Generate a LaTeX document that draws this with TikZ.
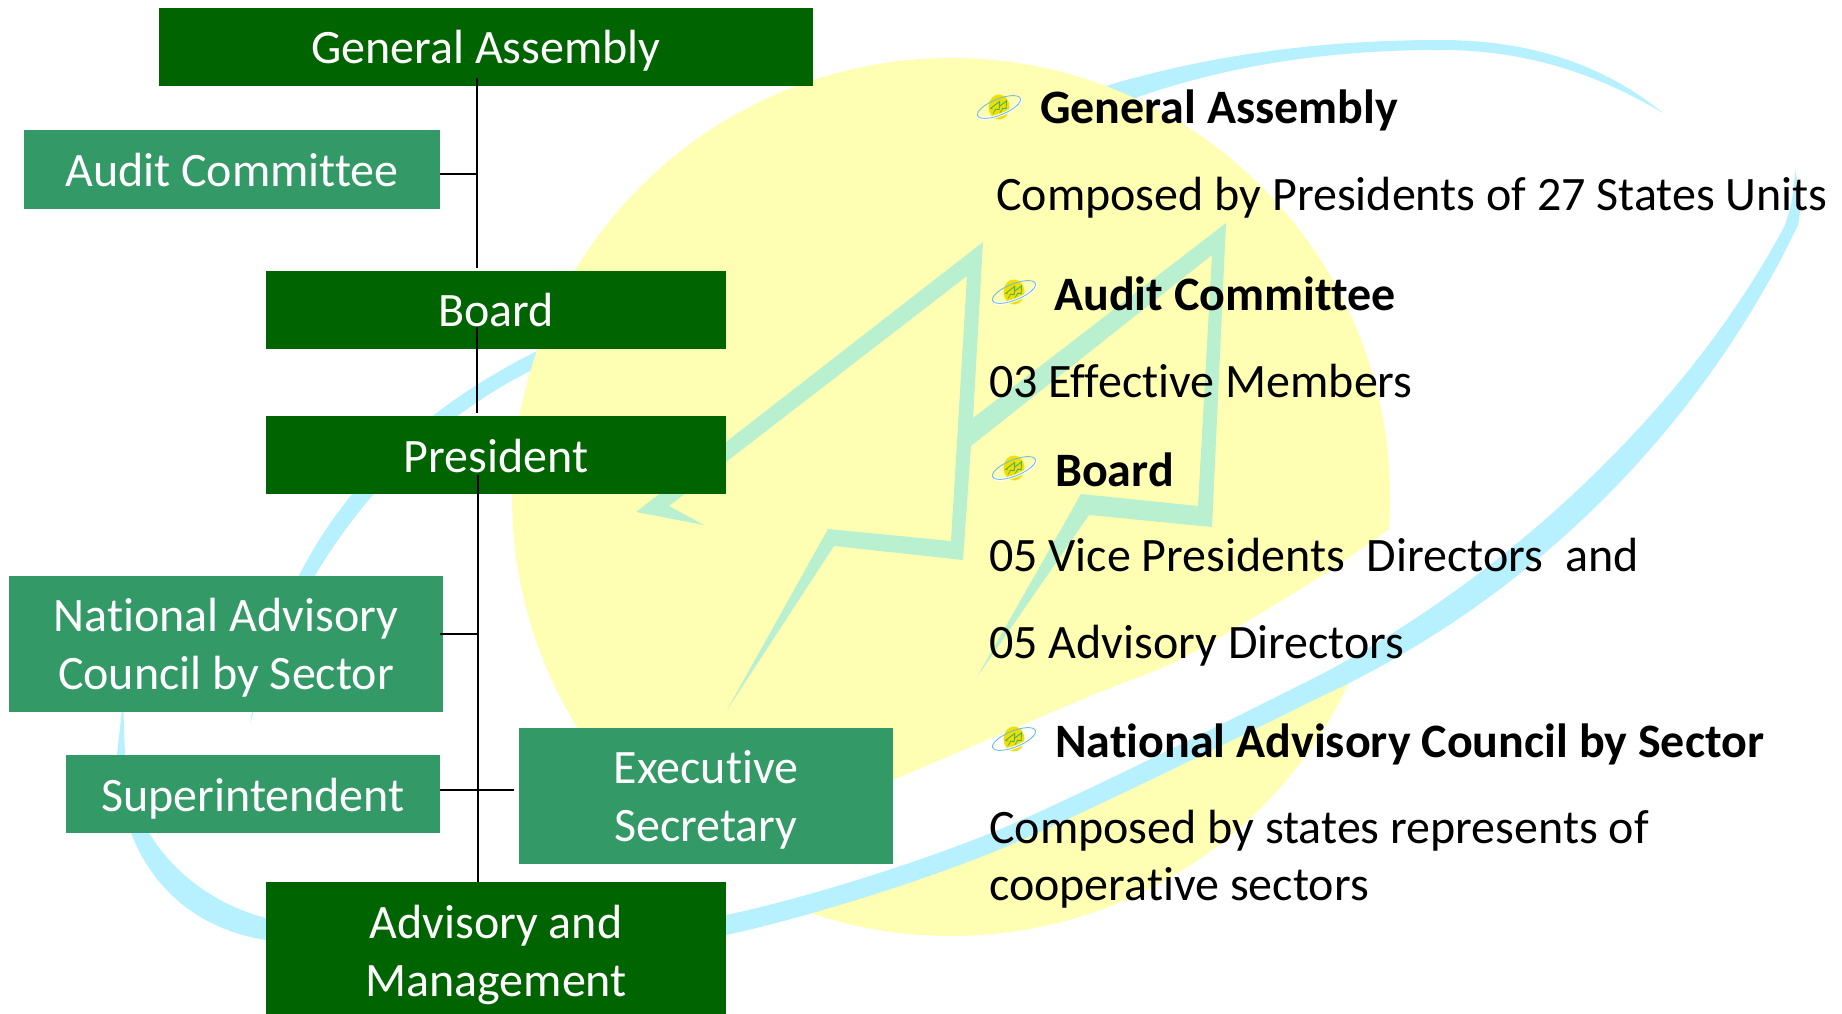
\documentclass[tikz,border=0pt]{standalone}
\usepackage{fontspec}
\setmainfont{Carlito}[Ligatures={NoCommon,NoContextual,NoRequired}]
\definecolor{dkgreen}{HTML}{006400}
\definecolor{mdgreen}{HTML}{339966}
\definecolor{paleyellow}{HTML}{FFFFB3}
\definecolor{paleblue}{HTML}{B7F1FF}
\definecolor{mint}{HTML}{B8F0D0}
\definecolor{iconyellow}{HTML}{F0E000}
\definecolor{iconblue}{HTML}{70BEDC}
\definecolor{icongreen}{HTML}{50B060}
\tikzset{
  dkbox/.style={fill=dkgreen,text=white,inner sep=0pt,font=\fontsize{48}{58}\selectfont,align=center},
  mdbox/.style={fill=mdgreen,text=white,inner sep=0pt,font=\fontsize{48}{58}\selectfont,align=center},
  oneline/.style={text height=42pt,text depth=8pt},
  conn/.style={draw=black,line width=2pt},
  plain/.style={anchor=base west,inner sep=0pt,text=black,font=\fontsize{48}{58}\selectfont},
  head/.style={anchor=base west,inner sep=0pt,text=black,font=\fontsize{48}{58}\selectfont\bfseries},
  boltpath/.style={insert path={(727,710) -- (828,529) -- (951,541) -- (967,276) -- (669,506) -- (704,525) -- (636,512) -- (983,242) -- (973,418) -- (1226,223) -- (1212,527) -- (1089,515) -- (977,677) -- (1081,494) -- (1198,506) -- (1212,255) -- (971,446) -- (963,560) -- (834,546) -- cycle}},
  icon/.pic={
    \fill[iconyellow] (0,0) ellipse [x radius=10.5pt,y radius=12.5pt];
    \begin{scope}[rotate=22]
      \draw[white,line width=3pt] (-23pt,0pt) arc [start angle=180,end angle=360,x radius=23pt,y radius=8pt];
      \draw[iconblue,line width=.9pt] (0,0) ellipse [x radius=23pt,y radius=8pt];
    \end{scope}
    \begin{scope}[scale=.028,shift={(-950,-460)}]
      \draw[icongreen,line width=.5pt,boltpath];
    \end{scope}
  }
}
\begin{document}
\begin{tikzpicture}[x=1pt,y=-1pt]
\useasboundingbox (0,0) rectangle (1842,1014);
% upper swoosh (behind the disc)
\fill[paleblue] (250,723) .. controls (285,530) and (400,420) .. (535,352)
  -- (1109,85) .. controls (1200,58) and (1310,40) .. (1440,40)
  .. controls (1540,40) and (1610,70) .. (1663,113)
  .. controls (1590,70) and (1520,50) .. (1440,50)
  .. controls (1330,50) and (1230,65) .. (1138,97)
  -- (528,372) .. controls (425,425) and (310,530) .. (250,723) -- cycle;
% disc
\fill[paleyellow] (951,497) circle [radius=439];
% bolt
\fill[mint,boltpath];
% white crescent
\fill[white] plot[smooth] coordinates {(1395,525) (1320,577) (1185,657) (1088,697) (893,780) (700,860)}
  -- (640,880) -- (640,935) -- (726,925) -- (991,843) -- (1185,763) -- (1320,685) -- (1460,605) -- cycle;
% lower swoosh
\fill[paleblue] (123,700) -- (117,755) .. controls (118,850) and (170,925) .. (266,940)
  -- plot[smooth] coordinates {(266,940) (500,957) (726,935) (991,853) (1320,697)}
  .. controls (1530,600) and (1700,430) .. (1798,225)
  .. controls (1802,205) and (1800,190) .. (1795,170)
  .. controls (1794,190) and (1792,205) .. (1785,225)
  .. controls (1690,405) and (1510,575) .. (1320,675)
  -- plot[smooth] coordinates {(1320,675) (991,833) (726,915) (500,935) (266,918)}
  .. controls (195,900) and (130,840) .. (125,755) -- cycle;

% boxes
\node[dkbox,oneline,minimum width=654pt,minimum height=78pt] (ga) at (486,47) {General Assembly};
\node[mdbox,oneline,minimum width=416pt,minimum height=79pt] (audit) at (232,169.5) {Audit Committee};
\node[dkbox,text height=40pt,text depth=8pt,minimum width=460pt,minimum height=78pt] (board) at (496,310) {Board};
\node[dkbox,oneline,minimum width=460pt,minimum height=78pt] (pres) at (496,455) {President};
\node[mdbox,minimum width=434pt,minimum height=136pt] (nac) at (226,644) {\rule{0pt}{41pt}National Advisory\\Council by Sector};
\node[mdbox,oneline,minimum width=374pt,minimum height=78pt] (sup) at (253,794) {Superintendent};
\node[mdbox,minimum width=374pt,minimum height=136pt] (exec) at (706,796) {\rule{0pt}{40pt}Executive\\Secretary};
\node[dkbox,minimum width=460pt,minimum height=132pt] (adv) at (496,948) {\rule{0pt}{47pt}Advisory and\\Management};

% connectors
\coordinate (s1) at (477,174);
\coordinate (s2) at (478,634);
\coordinate (s3) at (478,790);
\draw[conn,shorten <=-8pt,shorten >=3pt] (ga.south -| s1) -- (board.north -| s1);
\draw[conn] (audit.east |- s1) -- (s1);
\draw[conn,shorten <=-22pt,shorten >=3pt] (board.south -| s1) -- (pres.north -| s1);
\draw[conn,shorten <=-19pt] (pres.south -| s2) -- (adv.north -| s2);
\draw[conn,shorten <=-3pt] (nac.east |- s2) -- (s2);
\draw[conn,shorten >=5pt] (sup.east |- s3) -- (exec.west |- s3);

% right-hand text
\node[head] (t1) at (1040,124) {General Assembly};
\node[plain] (t2) at (996,210) {Composed by Presidents of 27 States Units};
\node[head] (t3) at (1054,310) {Audit Committee};
\node[plain] (t4) at (989,397) {03 Effective Members};
\node[head] (t5) at (1055,486) {Board};
\node[plain] (t6) at (989,571) {05 Vice Presidents\ \ Directors\ \ and};
\node[plain] (t7) at (989,658) {05 Advisory Directors};
\node[head] (t8) at (1055,757) {National Advisory Council by Sector};
\node[plain] (t9) at (989,843) {Composed by states represents of};
\node[plain] (t10) at (989,900) {cooperative sectors};

% bullets
\pic at (999,107) {icon};
\pic at (1014,292) {icon};
\pic at (1014,468) {icon};
\pic at (1014,739) {icon};
\end{tikzpicture}
\end{document}
